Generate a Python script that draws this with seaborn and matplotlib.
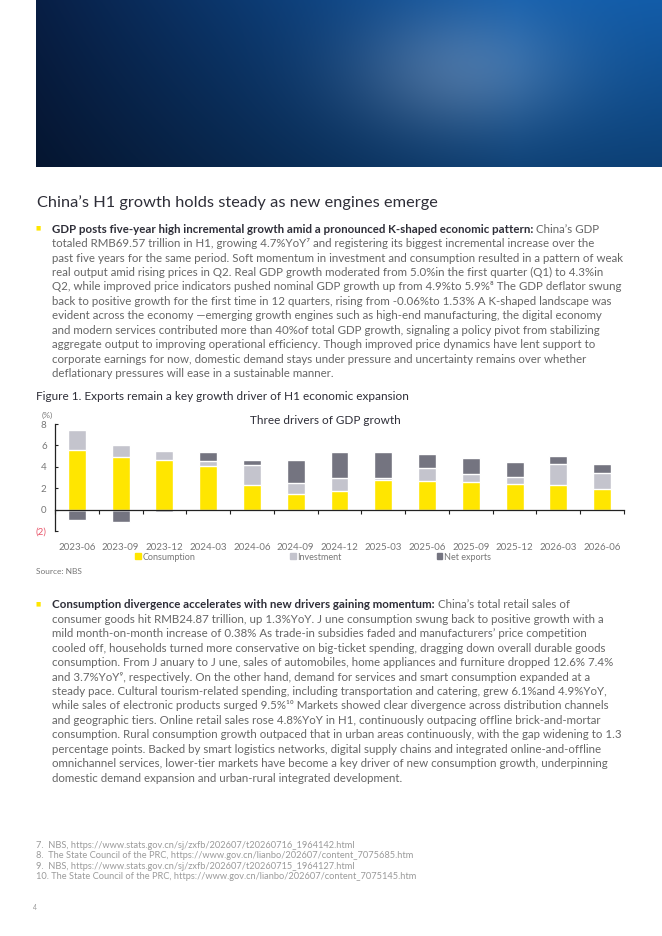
import numpy as np
import pandas as pd
import seaborn as sns
import matplotlib.pyplot as plt
from matplotlib.patches import Patch

# chart data (pp contribution to GDP growth)
quarters = ["2023-06", "2023-09", "2023-12", "2024-03", "2024-06", "2024-09", "2024-12",
            "2025-03", "2025-06", "2025-09", "2025-12", "2026-03", "2026-06"]
consumption = [5.53, 4.9, 4.68, 4.05, 2.34, 1.49, 1.74, 2.72, 2.69, 2.56, 2.37, 2.31, 1.93]
investment = [1.93, 1.17, 0.79, 0.47, 1.84, 1.04, 1.17, 0.22, 1.2, 0.76, 0.67, 1.93, 1.49]
net_exports = [-1.01, -1.17, -0.25, 0.83, 0.5, 2.06, 2.5, 2.47, 1.3, 1.49, 1.45, 0.76, 0.85]
y_ticks = [-2, 0, 2, 4, 6, 8]
y_labels = ["(2)", "0", "2", "4", "6", "8"]
series_names = ["Consumption", "Investment", "Net exports"]

title = "China\u2019s H1 growth holds steady as new engines emerge"
bold1 = "GDP posts five-year high incremental growth amid a pronounced K-shaped economic pattern:"
para1 = [
    " China\u2019s GDP",
    "totaled RMB69.57 trillion in H1, growing 4.7%YoY\u2077 and registering its biggest incremental increase over the",
    "past five years for the same period. Soft momentum in investment and consumption resulted in a pattern of weak",
    "real output amid rising prices in Q2. Real GDP growth moderated from 5.0%in the first quarter (Q1) to 4.3%in",
    "Q2, while improved price indicators pushed nominal GDP growth up from 4.9%to 5.9%\u2078 The GDP deflator swung",
    "back to positive growth for the first time in 12 quarters, rising from -0.06%to 1.53% A K-shaped landscape was",
    "evident across the economy \u2014emerging growth engines such as high-end manufacturing, the digital economy",
    "and modern services contributed more than 40%of total GDP growth, signaling a policy pivot from stabilizing",
    "aggregate output to improving operational efficiency. Though improved price dynamics have lent support to",
    "corporate earnings for now, domestic demand stays under pressure and uncertainty remains over whether",
    "deflationary pressures will ease in a sustainable manner.",
]
caption = "Figure 1. Exports remain a key growth driver of H1 economic expansion"
chart_title = "Three drivers of GDP growth"
source = "Source: NBS"
bold2 = "Consumption divergence accelerates with new drivers gaining momentum:"
para2 = [
    " China\u2019s total retail sales of",
    "consumer goods hit RMB24.87 trillion, up 1.3%YoY. J une consumption swung back to positive growth with a",
    "mild month-on-month increase of 0.38% As trade-in subsidies faded and manufacturers\u2019 price competition",
    "cooled off, households turned more conservative on big-ticket spending, dragging down overall durable goods",
    "consumption. From J anuary to J une, sales of automobiles, home appliances and furniture dropped 12.6% 7.4%",
    "and 3.7%YoY\u2079, respectively. On the other hand, demand for services and smart consumption expanded at a",
    "steady pace. Cultural tourism-related spending, including transportation and catering, grew 6.1%and 4.9%YoY,",
    "while sales of electronic products surged 9.5%\u00b9\u2070 Markets showed clear divergence across distribution channels",
    "and geographic tiers. Online retail sales rose 4.8%YoY in H1, continuously outpacing offline brick-and-mortar",
    "consumption. Rural consumption growth outpaced that in urban areas continuously, with the gap widening to 1.3",
    "percentage points. Backed by smart logistics networks, digital supply chains and integrated online-and-offline",
    "omnichannel services, lower-tier markets have become a key driver of new consumption growth, underpinning",
    "domestic demand expansion and urban-rural integrated development.",
]
footnotes = [
    "7.  NBS, https://www.stats.gov.cn/sj/zxfb/202607/t20260716_1964142.html",
    "8.  The State Council of the PRC, https://www.gov.cn/lianbo/202607/content_7075685.htm",
    "9.  NBS, https://www.stats.gov.cn/sj/zxfb/202607/t20260715_1964127.html",
    "10. The State Council of the PRC, https://www.gov.cn/lianbo/202607/content_7075145.htm",
]

YELLOW = "#FFE600"
LIGHT = "#C4C4CD"
DARK = "#747480"
INK = "#2E2E38"
GREY = "#666666"

sns.set_theme(style="white")
FONT = ["Lato", "DejaVu Sans"]
plt.rcParams["font.family"] = FONT

W, H = 662, 936
fig = plt.figure(figsize=(W / 100, H / 100), dpi=100)
renderer = fig.canvas.get_renderer()


def px_text(x, y, s, **kw):
    kw.setdefault("va", "center")
    kw.setdefault("ha", "left")
    return fig.text(x / W, 1 - y / H, s, **kw)


def fit_size(s, target, weight="normal"):
    t = px_text(0, 0, s, fontsize=10, fontweight=weight)
    w = t.get_window_extent(renderer).width
    t.remove()
    return 10 * target / w


# header picture stand-in: blue gradient with a soft glow
ax_img = fig.add_axes([36 / W, 1 - 167 / H, (W - 36) / W, 167 / H])
gx = np.linspace(0, 1, 400)[None, :, None]
gy = np.linspace(0, 1, 110)[:, None, None]
c_left = np.array([0.03, 0.12, 0.27])
c_right = np.array([0.07, 0.36, 0.66])
img = c_left + (c_right - c_left) * np.clip(gx * 1.3, 0, 1)
glow = np.exp(-((gx - 0.68) ** 2) / 0.03 - ((gy - 0.45) ** 2) / 0.15)
img = img + glow * np.array([0.25, 0.18, 0.12])
img = img * (1 - 0.3 * gy)
ax_img.imshow(np.clip(img, 0, 1), aspect="auto", extent=[0, 1, 0, 1])
ax_img.axis("off")

# title
px_text(37, 203, title, fontsize=fit_size(title, 399), color=INK)

body_fs = fit_size(para1[2], 570)


def paragraph(y0, bold, lines):
    px_text(36, y0 - 1, "\u25a0", fontsize=4, color=YELLOW)
    b = px_text(52, y0, bold, fontsize=body_fs, fontweight="bold", color=INK)
    bx = b.get_window_extent(renderer).x1
    fig.text(bx / W, 1 - y0 / H, lines[0], fontsize=body_fs, color=GREY, va="center")
    for i, line in enumerate(lines[1:], start=1):
        px_text(52, y0 + i * 14.42, line, fontsize=body_fs, color=GREY)


paragraph(229.3, bold1, para1)

px_text(36, 397, caption, fontsize=fit_size(caption, 370), color=INK)

# chart
df = pd.DataFrame({"quarter": quarters, "Consumption": consumption,
                   "Investment": investment, "Net exports": net_exports})
df["ci"] = df["Consumption"] + df["Investment"]
df["top"] = np.where(df["Net exports"] > 0, df["ci"] + df["Net exports"], df["Net exports"])

ax = fig.add_axes([55 / W, 1 - 531 / H, (624 - 55) / W, (531 - 424) / H])
sns.barplot(data=df, x="quarter", y="top", color=DARK, width=0.41, saturation=1, ax=ax)
sns.barplot(data=df, x="quarter", y="ci", color=LIGHT, width=0.41, saturation=1, ax=ax)
sns.barplot(data=df, x="quarter", y="Consumption", color=YELLOW, width=0.41, saturation=1, ax=ax)
ax.set_xlim(-0.5, len(quarters) - 0.5)
ax.set_ylim(-2, 8)
ax.set_xlabel("")
ax.set_ylabel("")
for side in ["top", "right"]:
    ax.spines[side].set_visible(False)
ax.spines["bottom"].set_position(("data", 0))
for side in ["bottom", "left"]:
    ax.spines[side].set_color("#222222")
    ax.spines[side].set_linewidth(0.9)
ax.set_yticks(y_ticks)
ax.set_yticklabels(y_labels)
ax.tick_params(axis="y", direction="in", length=2.5, width=0.8, color="#222222",
               labelsize=7, labelcolor="#777777", pad=6, left=True)
ax.get_yticklabels()[0].set_color("#E8556A")
ax.set_xticks(np.arange(-0.5, len(quarters)), minor=True)
ax.tick_params(axis="x", which="minor", direction="out", length=3, width=0.8,
               color="#222222", bottom=True)
ax.tick_params(axis="x", which="major", length=0, labelsize=7, labelcolor="#777777", pad=24)
ax.grid(False)
ax.set_facecolor("none")
px_text(325, 421, chart_title, fontsize=8.5, color=INK, ha="center")
px_text(42, 415, "(%)", fontsize=6, color="#777777")

handles = [Patch(color=c) for c in (YELLOW, LIGHT, DARK)]
fig.legend(handles, series_names, loc="center", bbox_to_anchor=(313 / W, 1 - 557 / H),
           ncol=3, frameon=False, fontsize=6.5, labelcolor="#777777", handlelength=0.6,
           handleheight=0.6, handletextpad=0.2, columnspacing=10.5)

px_text(36, 572, source, fontsize=6, color="#777777")

paragraph(605, bold2, para2)

foot_fs = fit_size(footnotes[3], 381)
for i, f in enumerate(footnotes):
    px_text(36, 845 + i * 10.6, f, fontsize=foot_fs, color="#9A9A9A")
px_text(33, 907, "4", fontsize=5, color="#9A9A9A")

fig.savefig("out.png", dpi=100)
